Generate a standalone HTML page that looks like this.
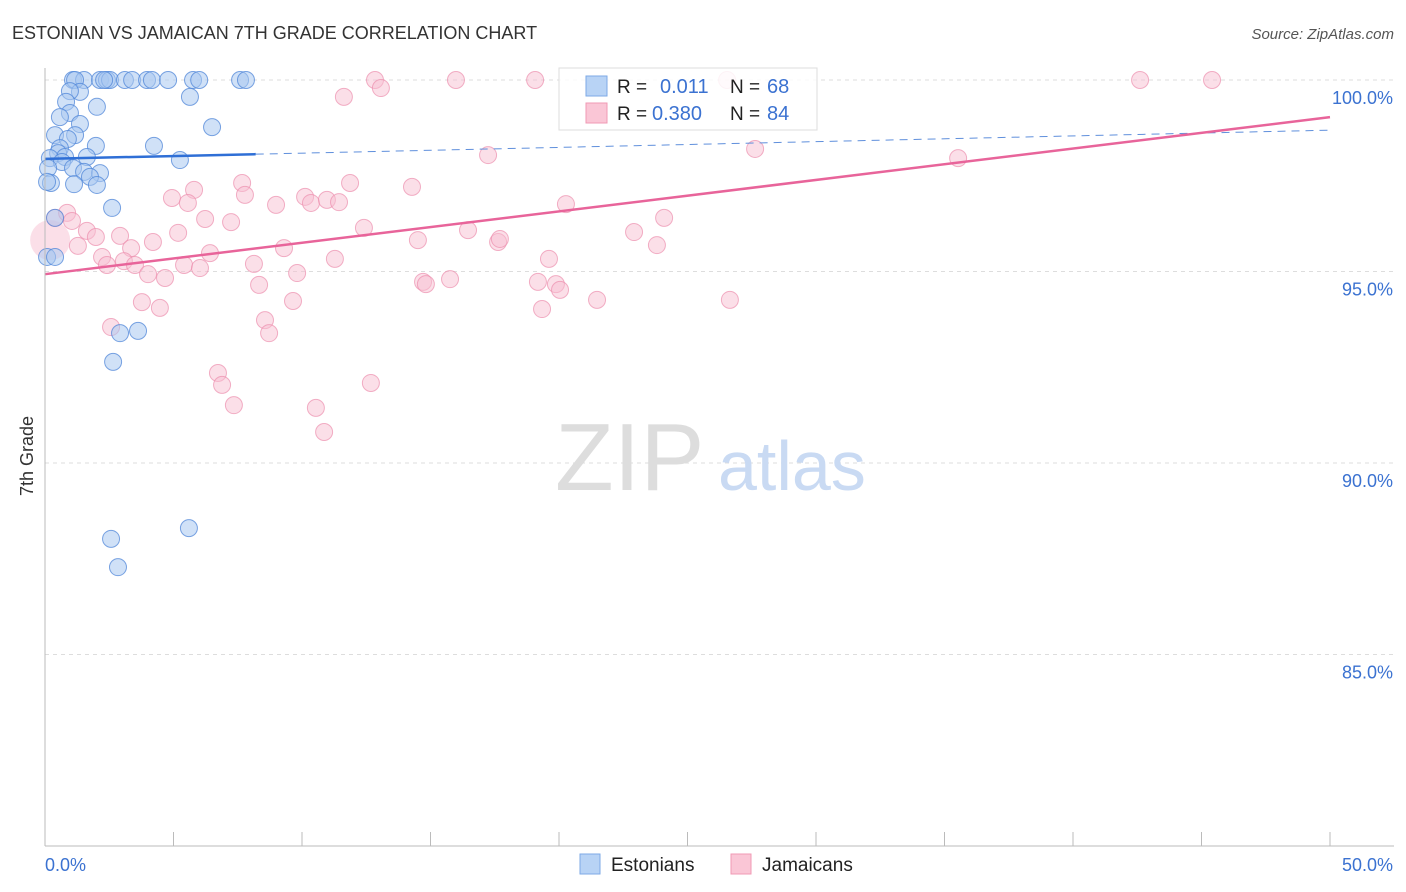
<!DOCTYPE html>
<html><head><meta charset="utf-8"><style>
body{margin:0;background:#fff;font-family:"Liberation Sans",sans-serif;}
#wrap{position:relative;width:1406px;height:892px;overflow:hidden;}
svg text{font-family:"Liberation Sans",sans-serif;}
</style></head><body>
<div id="wrap">
<svg id="chart" width="1406" height="892">
<text x="12" y="39" font-size="18" fill="#333">ESTONIAN VS JAMAICAN 7TH GRADE CORRELATION CHART</text>
<text x="1394" y="39" font-size="15" fill="#555" font-style="italic" text-anchor="end">Source: ZipAtlas.com</text>
<text x="33" y="456" font-size="18" fill="#333" transform="rotate(-90 33 456)" text-anchor="middle">7th Grade</text>
<g id="grid"></g>
<text x="555" y="490" font-size="96" fill="#ddd" font-family="Liberation Serif">ZIP</text>
<text x="718" y="490" font-size="70" fill="#c9daf3">atlas</text>
<g id="pts"></g>
<g id="lines"></g>
<line x1="45" y1="68" x2="45" y2="846" stroke="#bbb"/>
<line x1="45" y1="846" x2="1394" y2="846" stroke="#bbb"/>
<g id="axes"></g>
<g>
<rect x="559" y="68" width="258" height="62" fill="#fff" fill-opacity="0.85" stroke="#ddd"/>
<rect x="586" y="76" width="21" height="20" fill="#b8d3f5" stroke="#7ea9e6"/>
<rect x="586" y="103" width="21" height="20" fill="#fac6d6" stroke="#f09ab4"/>
<text x="617" y="93" font-size="19" fill="#222">R = </text><text x="660" y="93" font-size="20" fill="#3b72d1">0.011</text>
<text x="730" y="93" font-size="19" fill="#222">N = </text><text x="767" y="93" font-size="20" fill="#3b72d1">68</text>
<text x="617" y="120" font-size="19" fill="#222">R = </text><text x="652" y="120" font-size="20" fill="#3b72d1">0.380</text>
<text x="730" y="120" font-size="19" fill="#222">N = </text><text x="767" y="120" font-size="20" fill="#3b72d1">84</text>
</g>
<g>
<rect x="580" y="854" width="20" height="20" fill="#b8d3f5" stroke="#7ea9e6"/>
<text x="611" y="871" font-size="19" fill="#222">Estonians</text>
<rect x="731" y="854" width="20" height="20" fill="#fac6d6" stroke="#f09ab4"/>
<text x="762" y="871" font-size="19" fill="#222">Jamaicans</text>
</g>
</svg>
</div>
<script>
const estX=[1.09,1.52,2.14,2.41,2.53,3.11,3.39,3.97,4.16,4.79,5.76,6.0,7.59,7.82,1.17,2.30,5.64,1.36,0.97,2.02,0.82,0.97,0.58,1.36,6.50,1.17,0.39,0.89,1.98,4.24,0.58,0.51,0.78,1.63,5.25,0.19,0.66,1.09,1.52,2.14,0.12,1.75,2.02,1.13,0.23,0.08,2.61,0.39,0.08,0.39,2.92,3.62,2.65,2.57,5.60,2.84];
const estY=[100,100,100,100,100,100,100,100,100,100,100,100,100,100,100,100,99.56,99.69,99.71,99.30,99.43,99.14,99.03,98.85,98.77,98.56,98.56,98.46,98.28,98.28,98.22,98.09,97.99,97.99,97.91,97.96,97.86,97.70,97.60,97.57,97.70,97.47,97.26,97.28,97.31,97.34,96.66,96.40,95.38,95.38,93.39,93.45,92.64,88.02,88.30,87.28];
const jamX=[12.84,15.99,19.07,26.54,42.61,45.41,13.07,11.63,17.24,27.63,35.53,7.67,5.80,4.94,7.78,5.56,10.12,10.35,10.97,11.44,11.87,14.28,8.99,20.27,24.09,0.39,0.86,1.05,6.23,7.24,12.41,16.46,22.92,2.92,5.18,1.63,1.98,1.28,4.20,3.35,9.30,14.51,17.63,17.70,23.81,6.42,2.22,3.07,3.50,2.41,5.41,6.03,8.13,11.28,19.61,4.01,9.81,4.67,8.33,14.71,14.82,15.76,19.18,19.88,20.04,3.77,4.47,9.65,19.34,21.48,26.65,8.56,2.57,8.72,6.73,6.89,12.68,7.35,10.54,10.86];
const jamY=[100,100,100,100,100,100,99.79,99.56,98.04,98.20,97.96,97.31,97.13,96.92,97.00,96.79,96.95,96.79,96.87,96.81,97.31,97.21,96.74,96.76,96.40,96.40,96.53,96.32,96.37,96.29,96.14,96.08,96.03,95.93,96.01,96.06,95.90,95.67,95.77,95.61,95.61,95.82,95.77,95.85,95.69,95.48,95.38,95.27,95.17,95.17,95.17,95.09,95.20,95.33,95.33,94.93,94.96,94.83,94.65,94.73,94.67,94.80,94.73,94.67,94.52,94.20,94.05,94.23,94.02,94.26,94.26,93.73,93.55,93.39,92.35,92.04,92.09,91.51,91.44,90.81];
const estTrend=[97.94,98.69];
const jamTrend=[94.93,99.03];
const yTicks=[100,95,90,85];
const yTickLabels=["100.0%","95.0%","90.0%","85.0%"];
const xTickLabels=["0.0%","50.0%"];
const NS="http://www.w3.org/2000/svg";
const sx=v=>45+v*25.7;
const sy=v=>80+(100-v)*38.3;
function mk(tag,attrs,parent){const e=document.createElementNS(NS,tag);for(const k in attrs)e.setAttribute(k,attrs[k]);document.getElementById(parent).appendChild(e);return e;}
yTicks.forEach((t,i)=>{
 const g=mk('line',{x1:45,x2:1394,y1:sy(t),y2:sy(t),stroke:'#ddd','stroke-dasharray':'4 4'},'grid');
 
 
 const l=mk('text',{x:1393,y:sy(t)+24,'font-size':18,fill:'#3b72d1','text-anchor':'end'},'axes');
 l.textContent=yTickLabels[i];
 
 
});
for(let i=0;i<=10;i++){
 const t=mk('line',{x1:sx(i*5),x2:sx(i*5),y1:832,y2:846,stroke:'#bbb'},'axes');
 
 
}
[0,50].forEach((v,i)=>{
 const l=mk('text',{x:i?1393:45,y:871,'font-size':18,fill:'#3b72d1','text-anchor':i?'end':'start'},'axes');
 l.textContent=xTickLabels[i];
 
 
});
const big=mk('circle',{cx:sx(0.2),cy:sy(95.82),r:20,fill:'#f8c0d1','fill-opacity':0.5},'pts');


jamX.forEach((x,i)=>{
 const c=mk('circle',{cx:sx(x),cy:sy(jamY[i]),r:8.5,fill:'#f8c0d1','fill-opacity':0.5,stroke:'#ec8fae','stroke-opacity':0.7,'stroke-width':1},'pts');
 
 
});
estX.forEach((x,i)=>{
 const c=mk('circle',{cx:sx(x),cy:sy(estY[i]),r:8.5,fill:'#a9c9f1','fill-opacity':0.55,stroke:'#4f86d8','stroke-opacity':0.75,'stroke-width':1},'pts');
 
 
});
const ey=x=>estTrend[0]+(estTrend[1]-estTrend[0])*x/50;
const a=mk('line',{x1:sx(0),y1:sy(ey(0)),x2:sx(8.2),y2:sy(ey(8.2)),stroke:'#2f6fd6','stroke-width':2.5},'lines');


const b=mk('line',{x1:sx(8.2),y1:sy(ey(8.2)),x2:sx(50),y2:sy(ey(50)),stroke:'#5f8fdc','stroke-width':1,'stroke-dasharray':'8 6'},'lines');


const p=mk('line',{x1:sx(0),y1:sy(jamTrend[0]),x2:sx(50),y2:sy(jamTrend[1]),stroke:'#e8649a','stroke-width':2.5},'lines');


</script>
</body></html>
